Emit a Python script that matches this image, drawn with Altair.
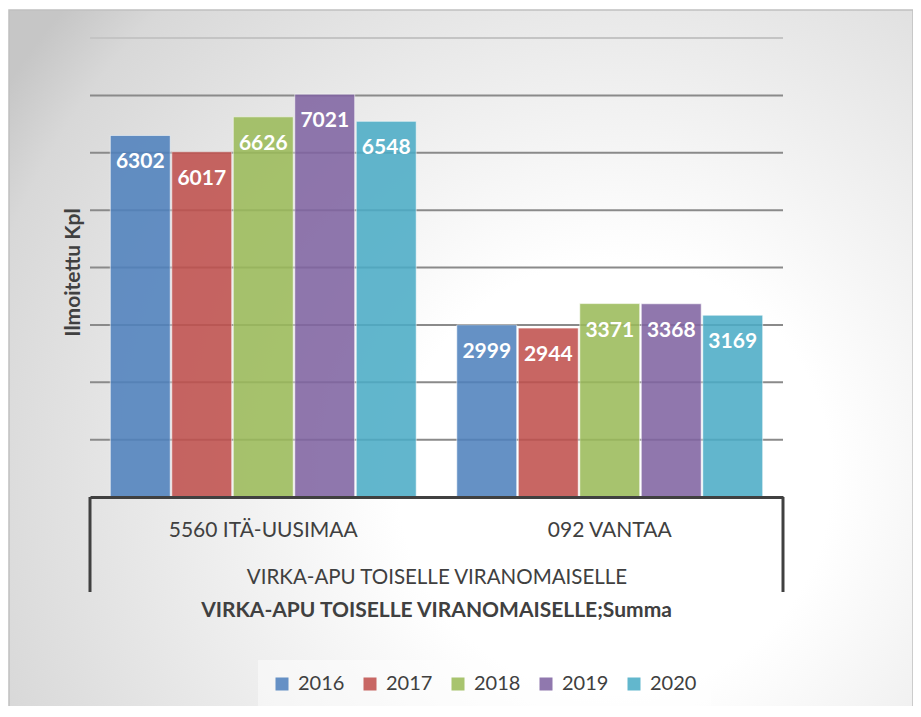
import altair as alt
import pandas as pd

categories = ["5560 ITÄ-UUSIMAA", "092 VANTAA"]
years = ["2016", "2017", "2018", "2019", "2020"]
values_itauusimaa = [6302, 6017, 6626, 7021, 6548]
values_vantaa = [2999, 2944, 3371, 3368, 3169]
grid_values = [1000, 2000, 3000, 4000, 5000, 6000, 7000, 8000]
colors = ["#4F81BD", "#C0504D", "#9BBB59", "#8064A2", "#4BACC6"]
y_title = "Ilmoitettu Kpl"
x_title = "VIRKA-APU TOISELLE VIRANOMAISELLE"
caption = "VIRKA-APU TOISELLE VIRANOMAISELLE;Summa"

rows = []
for cat, vals in zip(categories, [values_itauusimaa, values_vantaa]):
    for yr, v in zip(years, vals):
        rows.append({"category": cat, "year": yr, "value": v})
df = pd.DataFrame(rows)

W, H = 693, 459
FONT = "Lato"
TXT = "#404040"

yscale = alt.Scale(domain=[0, 8000], nice=False)

xenc = alt.X(
    "category:N", sort=categories,
    scale=alt.Scale(paddingInner=0, paddingOuter=0),
    axis=alt.Axis(
        title=x_title, labelAngle=0, ticks=False, tickSize=0, grid=False,
        domain=True, domainColor=TXT, domainWidth=3,
        labelFont=FONT, labelFontSize=21, labelColor=TXT, labelPadding=33,
        labelBaseline="middle", labelLimit=500,
        titleFont=FONT, titleFontSize=20.5, titleFontWeight="normal", titleColor=TXT,
        titleX=W / 2, titleY=80, titleBaseline="middle", titleAlign="center",
        zindex=1,
    ),
)
xoff = alt.XOffset("year:N", sort=years, scale=alt.Scale(paddingInner=0.025, paddingOuter=0.33))
yaxis = alt.Axis(
    title=y_title, labels=False, ticks=False, domain=False, grid=False,
    titleFont=FONT, titleFontSize=21, titleFontWeight="bold", titleColor=TXT,
    titleX=-17, titleY=234, titleAlign="center", titleBaseline="middle",
    zindex=1,
)
yenc = alt.Y("value:Q", scale=yscale, axis=yaxis, title=y_title)

one = pd.DataFrame({"k": [0]})

bg = alt.Chart(one).mark_rect(
    fill=alt.Gradient(
        gradient="radial",
        stops=[
            alt.GradientStop(color="#ffffff", offset=0),
            alt.GradientStop(color="#ffffff", offset=0.3),
            alt.GradientStop(color="#d8d8d8", offset=0.9),
            alt.GradientStop(color="#c6c6c6", offset=1),
        ],
        x1=0.67, y1=0.63, r1=0, x2=0.67, y2=0.63, r2=0.8,
    ),
    stroke="#c0c0c0", strokeWidth=1.5,
).encode(x=alt.value(-81), x2=alt.value(823), y=alt.value(-28), y2=alt.value(672))

grid_df = pd.DataFrame({"g": grid_values})
grid = alt.Chart(grid_df).mark_rule(strokeWidth=2).encode(
    y=alt.Y("g:Q", scale=yscale, axis=yaxis, title=y_title),
    x=alt.value(0), x2=alt.value(W),
    color=alt.condition("datum.g == 8000", alt.value("#c4c4c4"), alt.value("#8a8a8a")),
)

bars = alt.Chart(df).mark_bar(
    opacity=0.87, stroke="#ffffff", strokeWidth=1, strokeOpacity=0.6
).encode(
    x=xenc, xOffset=xoff, y=yenc,
    color=alt.Color(
        "year:N", sort=years, scale=alt.Scale(domain=years, range=colors),
        legend=alt.Legend(
            title=None, orient="none", legendX=168, legendY=622, direction="horizontal",
            symbolType="square", symbolSize=169, symbolStrokeWidth=0, symbolOpacity=0.87,
            labelFont=FONT, labelFontSize=20, labelColor=TXT, labelOffset=6,
            columnPadding=15, padding=14, fillColor="rgba(255,255,255,0.45)",
        ),
    ),
)

labels = alt.Chart(df).mark_text(
    font=FONT, fontSize=21, fontWeight="bold", color="white", baseline="middle", dy=27
).encode(x=xenc, xOffset=xoff, y=yenc, text="value:Q")

left_side = alt.Chart(one).mark_rule(color=TXT, strokeWidth=3).encode(
    x=alt.value(0), y=alt.value(H), y2=alt.value(H + 95))
right_side = alt.Chart(one).mark_rule(color=TXT, strokeWidth=3).encode(
    x=alt.value(W), y=alt.value(H), y2=alt.value(H + 95))

cap = alt.Chart(pd.DataFrame({"t": [caption]})).mark_text(
    font=FONT, fontSize=21, fontWeight="bold", color=TXT, baseline="middle", align="center"
).encode(text="t:N", x=alt.value(W / 2), y=alt.value(573))

chart = alt.layer(bg, grid, bars, labels, left_side, right_side, cap).properties(
    width=W, height=H,
    autosize=alt.AutoSizeParams(type="none"),
    padding={"left": 82, "top": 30, "right": 130, "bottom": 209},
    background="white",
).configure_view(stroke=None)

chart.save("out.html", embed_options={"renderer": "svg", "actions": False})
